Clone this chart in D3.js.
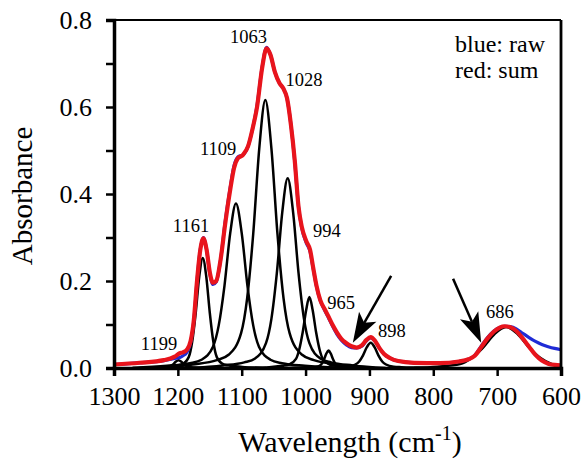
<!DOCTYPE html>
<html><head><meta charset="utf-8">
<script src="https://cdn.jsdelivr.net/npm/d3@7"></script>
<style>html,body{margin:0;padding:0;background:#fff}svg{display:block}
svg text{font-family:"Liberation Serif","Times New Roman",Tinos,"DejaVu Serif",serif !important;}</style>
</head><body><svg id="chart" width="582" height="460"></svg>
<script>
// ---------- DATA ----------
const xTicks = [1300, 1200, 1100, 1000, 900, 800, 700, 600];
const yTicksMajor = [0.0, 0.2, 0.4, 0.6, 0.8];
const yTicksMinor = [0.1, 0.3, 0.5, 0.7];

const rawSpectrum = [[1300,0.008],[1260,0.012],[1222,0.017],[1205,0.022],[1197,0.024],[1192,0.028],[1186,0.036],[1180,0.058],[1175,0.108],[1170,0.2],[1165,0.272],[1160,0.3],[1155,0.272],[1150,0.218],[1145,0.192],[1140,0.198],[1133,0.25],[1126,0.335],[1118,0.415],[1112,0.465],[1106,0.485],[1098,0.49],[1090,0.51],[1083,0.55],[1076,0.603],[1068,0.692],[1061,0.737],[1055,0.72],[1048,0.68],[1041,0.655],[1035,0.643],[1029,0.62],[1023,0.56],[1017,0.475],[1011,0.37],[1006,0.322],[999,0.288],[993,0.268],[988,0.228],[983,0.188],[977,0.155],[970,0.132],[964,0.115],[958,0.097],[951,0.078],[944,0.064],[936,0.053],[928,0.047],[920,0.046],[912,0.05],[905,0.062],[898,0.069],[891,0.061],[884,0.045],[877,0.032],[868,0.023],[855,0.016],[830,0.012],[790,0.011],[760,0.015],[745,0.02],[735,0.029],[725,0.05],[715,0.07],[705,0.085],[696,0.093],[688,0.096],[680,0.095],[670,0.09],[660,0.08],[650,0.07],[640,0.061],[630,0.054],[620,0.049],[610,0.045],[600,0.042]];

const sumSpectrum = [[1300,0.008],[1260,0.012],[1222,0.018],[1205,0.026],[1197,0.034],[1192,0.036],[1186,0.042],[1180,0.062],[1175,0.11],[1170,0.2],[1165,0.27],[1160,0.298],[1155,0.272],[1150,0.22],[1145,0.196],[1140,0.2],[1133,0.25],[1126,0.33],[1118,0.41],[1112,0.46],[1106,0.482],[1098,0.49],[1090,0.51],[1083,0.55],[1076,0.6],[1068,0.69],[1061,0.735],[1055,0.72],[1048,0.68],[1041,0.655],[1035,0.643],[1029,0.62],[1023,0.56],[1017,0.478],[1011,0.37],[1006,0.325],[999,0.292],[993,0.272],[988,0.23],[983,0.19],[977,0.156],[970,0.135],[964,0.118],[958,0.1],[951,0.082],[944,0.067],[936,0.057],[928,0.05],[920,0.047],[912,0.052],[905,0.064],[898,0.071],[891,0.062],[884,0.045],[877,0.032],[868,0.023],[855,0.016],[830,0.012],[790,0.011],[760,0.015],[745,0.02],[735,0.028],[725,0.048],[715,0.068],[705,0.084],[696,0.093],[688,0.096],[680,0.094],[670,0.085],[660,0.068],[650,0.049],[640,0.03],[630,0.017],[620,0.01],[610,0.007],[600,0.006]];

const peak1199 = [[1271,0],[1247,0.0003],[1231,0.0006],[1223,0.001],[1215,0.0025],[1211,0.005],[1207,0.009],[1203,0.015],[1199,0.018],[1195,0.015],[1191,0.009],[1187,0.005],[1183,0.0025],[1175,0.001],[1167,0.0006],[1151,0.0003],[1127,0]];
const peak1161 = [[1260,0],[1227,0.002],[1205,0.005],[1194,0.008],[1183,0.025],[1177.5,0.061],[1172,0.127],[1166.5,0.21],[1161,0.253],[1155.5,0.21],[1150,0.127],[1144.5,0.061],[1139,0.025],[1128,0.008],[1117,0.005],[1095,0.002],[1062,0]];
const peak1109 = [[1271,0],[1217,0.005],[1181,0.011],[1163,0.019],[1145,0.049],[1136,0.098],[1127,0.189],[1118,0.31],[1109,0.378],[1100,0.31],[1091,0.189],[1082,0.098],[1073,0.049],[1055,0.019],[1037,0.011],[1001,0.005],[947,0]];
const peak1063 = [[1234,0],[1177,0.008],[1139,0.018],[1120,0.031],[1101,0.08],[1091.5,0.16],[1082,0.308],[1072.5,0.505],[1063,0.616],[1053.5,0.505],[1044,0.308],[1034.5,0.16],[1025,0.08],[1006,0.031],[987,0.018],[949,0.008],[892,0]];
const peak1028 = [[1181,0],[1130,0.006],[1096,0.013],[1079,0.022],[1062,0.057],[1053.5,0.113],[1045,0.218],[1036.5,0.358],[1028,0.436],[1019.5,0.358],[1011,0.218],[1002.5,0.113],[994,0.057],[977,0.022],[960,0.013],[926,0.006],[875,0]];
const peak994 = [[1089,0],[1057,0.002],[1036,0.005],[1025.5,0.008],[1015,0.021],[1010,0.042],[1004.5,0.082],[999,0.134],[994,0.163],[989,0.134],[983.5,0.082],[978,0.042],[973,0.021],[962.5,0.008],[952,0.005],[931,0.002],[899,0]];
const peak965 = [[1027,0],[1006,0.001],[992,0.001],[985,0.002],[978,0.005],[974.5,0.01],[971,0.02],[967.5,0.033],[964,0.04],[960.5,0.033],[957,0.02],[953.5,0.01],[950,0.005],[943,0.002],[936,0.001],[922,0.001],[901,0]];
const peak898 = [[1006,0],[970,0.001],[946,0.002],[934,0.003],[922,0.008],[916,0.015],[910,0.029],[904,0.048],[898,0.058],[892,0.048],[886,0.029],[880,0.015],[874,0.008],[862,0.003],[850,0.002],[826,0.001],[790,0]];
const peak686 = [[830,0],[794,0.003],[758,0.009],[740,0.023],[722,0.047],[704,0.078],[686,0.094],[668,0.078],[650,0.047],[632,0.023],[614,0.009],[600,0.005]];

const peakLabels = ["1199","1161","1109","1063","1028","994","965","898","686"];
const labelAnchors = [[1229.5,0.041],[1179.4,0.313],[1137,0.49],[1089.4,0.747],[1002.5,0.648],[966.5,0.301],[944.5,0.136],[864.7,0.071],[695.6,0.115]];

const arrowTails = [[866,0.212],[769,0.205]];
const arrowTips  = [[926,0.058],[725,0.058]];

const legendLines = ["blue: raw", "red: sum"];
const xTitle = "Wavelength (cm";
const xTitleSup = "-1";
const yTitle = "Absorbance";

// ---------- CHART ----------
const svg = d3.select("#chart");
const x = d3.scaleLinear().domain([1300, 600]).range([114, 561]);
const y = d3.scaleLinear().domain([0, 0.8]).range([368, 20]);

const line = d3.line().x(d => x(d[0])).y(d => y(d[1])).curve(d3.curveMonotoneX);

const components = [peak1199, peak1161, peak1109, peak1063, peak1028, peak994, peak965, peak898, peak686];
svg.append("g").selectAll("path").data(components).join("path")
  .attr("d", line).attr("fill", "none").attr("stroke", "#000").attr("stroke-width", 2.5);

svg.append("path").datum(rawSpectrum).attr("d", line)
  .attr("fill", "none").attr("stroke", "#1f2bd6").attr("stroke-width", 3.2);
svg.append("path").datum(sumSpectrum).attr("d", line)
  .attr("fill", "none").attr("stroke", "#e8141c").attr("stroke-width", 4.2);

// frame top/right
svg.append("line").attr("x1", x(1300)).attr("x2", x(600)).attr("y1", y(0.8)).attr("y2", y(0.8)).attr("stroke", "#000").attr("stroke-width", 2.2);
svg.append("line").attr("x1", x(600)).attr("x2", x(600)).attr("y1", y(0.8)).attr("y2", y(0)).attr("stroke", "#000").attr("stroke-width", 2.8);

// axes
const xAxis = d3.axisBottom(x).tickValues(xTicks).tickSize(8).tickPadding(11).tickFormat(d3.format("d"));
const gx = svg.append("g").attr("transform", `translate(0,${y(0)})`).call(xAxis);
gx.attr("font-family", null);
gx.select(".domain").attr("stroke-width", 3.5);
gx.selectAll(".tick line").attr("stroke-width", 2.5);
gx.selectAll("text").attr("font-size", 26).attr("fill", "#000");

const yAxis = d3.axisLeft(y).tickValues(yTicksMajor).tickSize(8).tickPadding(14).tickFormat(d3.format(".1f"));
const gy = svg.append("g").attr("transform", `translate(${x(1300)},0)`).call(yAxis);
gy.attr("font-family", null);
gy.select(".domain").attr("stroke-width", 3.5);
gy.selectAll(".tick line").attr("stroke-width", 2.5);
gy.selectAll("text").attr("font-size", 26).attr("fill", "#000");
const yAxisMinor = d3.axisLeft(y).tickValues(yTicksMinor).tickSize(8).tickFormat("");
const gym = svg.append("g").attr("transform", `translate(${x(1300)},0)`).call(yAxisMinor);
gym.select(".domain").remove();
gym.selectAll(".tick line").attr("stroke-width", 2.5);

// peak labels
svg.append("g").selectAll("text").data(peakLabels).join("text")
  .attr("x", (d, i) => x(labelAnchors[i][0])).attr("y", (d, i) => y(labelAnchors[i][1]))
  .attr("text-anchor", "middle").attr("font-size", 18.5).text(d => d);

// legend text
svg.append("g").selectAll("text").data(legendLines).join("text")
  .attr("x", 455).attr("y", (d, i) => 52 + i * 26)
  .attr("font-size", 24).text(d => d);

// arrows
arrowTails.forEach((t, i) => {
  const p = arrowTips[i];
  const x0 = x(t[0]), y0 = y(t[1]), x1 = x(p[0]), y1 = y(p[1]);
  const ang = Math.atan2(y1 - y0, x1 - x0);
  const L = 30, hw = 10, notch = 7;
  const bx = x1 - L * Math.cos(ang), by = y1 - L * Math.sin(ang);
  const nx = -Math.sin(ang), ny = Math.cos(ang);
  const nbx = x1 - (L - notch) * Math.cos(ang), nby = y1 - (L - notch) * Math.sin(ang);
  svg.append("line").attr("x1", x0).attr("y1", y0).attr("x2", nbx).attr("y2", nby)
    .attr("stroke", "#000").attr("stroke-width", 2.5);
  svg.append("path").attr("d", `M${x1},${y1}L${bx + nx * hw},${by + ny * hw}L${nbx},${nby}L${bx - nx * hw},${by - ny * hw}Z`)
    .attr("fill", "#000");
});

// axis titles
svg.append("text").attr("transform", `translate(32,${(y(0)+y(0.8))/2 + 2}) rotate(-90)`)
  .attr("text-anchor", "middle").attr("font-size", 29).text(yTitle);
const xt = svg.append("text").attr("x", 350).attr("y", 452).attr("text-anchor", "middle")
  .attr("font-size", 30);
xt.append("tspan").text(xTitle);
xt.append("tspan").attr("font-size", 20).attr("dy", -12).text(xTitleSup);
xt.append("tspan").attr("dy", 12).text(")");
</script></body></html>
